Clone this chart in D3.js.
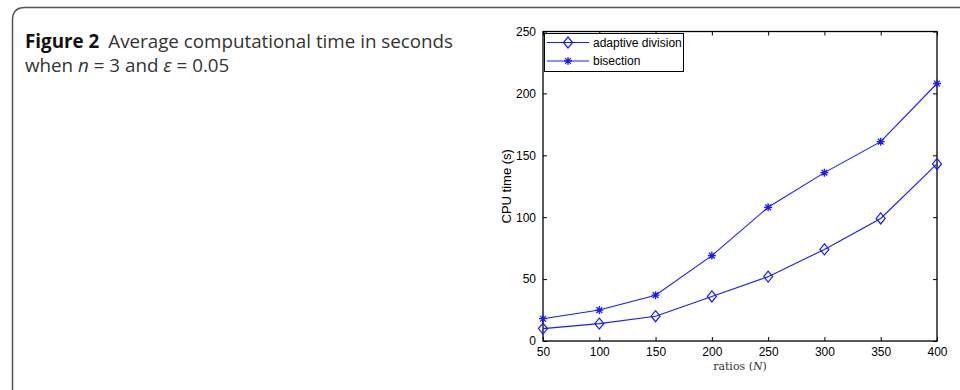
<!DOCTYPE html>
<html>
<head>
<meta charset="utf-8">
<script src="https://cdn.jsdelivr.net/npm/d3@7"></script>
<style>
  body { margin: 0; background: #fff; }
  svg { display: block; }
  .tick-text { font-family: "Liberation Sans", Arial, sans-serif; font-size: 12px; fill: #000; }
  .caption { font-family: "Open Sans", "Noto Sans", sans-serif; font-size: 18.8px; fill: #333; }
</style>
</head>
<body>
<div id="chart"></div>
<script>
// values
const ratios = [50, 100, 150, 200, 250, 300, 350, 400];
const adaptiveDivision = [10, 14, 20, 36, 52, 74, 99, 143];
const bisection = [18, 25, 37, 69, 108, 136, 161, 208];
const xTicks = [50, 100, 150, 200, 250, 300, 350, 400];
const yTicks = [0, 50, 100, 150, 200, 250];
const seriesNames = ['adaptive division', 'bisection'];

const width = 960, height = 390;
const plot = { left: 543, right: 937, top: 31.5, bottom: 341 };

const svg = d3.select('#chart').append('svg')
  .attr('width', width)
  .attr('height', height);

// outer frame of the figure panel (rounded top-left corner)
svg.append('path')
  .attr('d', 'M12.5,390 L12.5,20 Q12.5,7.5 25,7.5 L960,7.5')
  .attr('fill', 'none')
  .attr('stroke', '#555')
  .attr('stroke-width', 1.5);

// caption, two lines
const cap = svg.append('text').attr('class', 'caption').attr('x', 25).attr('y', 47.5);
cap.append('tspan').attr('font-weight', 'bold').attr('fill', '#111').text('Figure 2');
cap.append('tspan').attr('dx', 9).text('Average computational time in seconds');
const cap2 = svg.append('text').attr('class', 'caption').attr('x', 25).attr('y', 72);
cap2.append('tspan').text('when ');
cap2.append('tspan').attr('font-style', 'italic').text('n');
cap2.append('tspan').text(' = 3 and ');
cap2.append('tspan').attr('font-style', 'italic').text('ε');
cap2.append('tspan').text(' = 0.05');

const x = d3.scaleLinear().domain([50, 400]).range([plot.left, plot.right]);
const y = d3.scaleLinear().domain([0, 250]).range([plot.bottom, plot.top]);

const tickLen = 4;

// bottom axis
const xAxis = svg.append('g')
  .attr('transform', `translate(0,${plot.bottom})`)
  .call(d3.axisBottom(x).tickValues(xTicks).tickSizeInner(-tickLen).tickSizeOuter(0).tickPadding(8));
// top axis (ticks only)
const xAxisTop = svg.append('g')
  .attr('transform', `translate(0,${plot.top})`)
  .call(d3.axisTop(x).tickValues(xTicks).tickSizeInner(-tickLen).tickSizeOuter(0).tickFormat(''));
// left axis
const yAxis = svg.append('g')
  .attr('transform', `translate(${plot.left},0)`)
  .call(d3.axisLeft(y).tickValues(yTicks).tickSizeInner(-tickLen).tickSizeOuter(0).tickPadding(7));
// right axis (ticks only)
const yAxisRight = svg.append('g')
  .attr('transform', `translate(${plot.right},0)`)
  .call(d3.axisRight(y).tickValues(yTicks).tickSizeInner(-tickLen).tickSizeOuter(0).tickFormat(''));

[xAxis, xAxisTop, yAxis, yAxisRight].forEach(function(g) {
  g.attr('font-size', null).attr('font-family', null);
  g.select('.domain').remove();
  g.selectAll('line').attr('stroke', '#000').attr('stroke-width', 1);
  g.selectAll('text').attr('class', 'tick-text');
});
xAxis.selectAll('text').attr('dy', '0.6em');

// plot box
svg.append('rect')
  .attr('x', plot.left)
  .attr('y', plot.top)
  .attr('width', plot.right - plot.left)
  .attr('height', plot.bottom - plot.top)
  .attr('fill', 'none')
  .attr('stroke', '#000')
  .attr('stroke-width', 1.3);

// axis labels
svg.append('text')
  .attr('class', 'tick-text')
  .attr('font-size', 13)
  .style('font-size', '13px')
  .attr('transform', `translate(511,${(plot.top + plot.bottom) / 2}) rotate(-90)`)
  .attr('text-anchor', 'middle')
  .text('CPU time (s)');

const xl = svg.append('text')
  .attr('x', (plot.left + plot.right) / 2)
  .attr('y', 370)
  .attr('text-anchor', 'middle')
  .attr('font-family', '"DejaVu Serif", "Liberation Serif", serif')
  .attr('font-size', 11)
  .attr('fill', '#333');
xl.append('tspan').text('ratios  (');
xl.append('tspan').attr('font-style', 'italic').text('N');
xl.append('tspan').text(')');

const blue = '#1a1aff';
const line = d3.line()
  .x(function(d) { return x(d[0]); })
  .y(function(d) { return y(d[1]); });

function diamond(g, cx, cy) {
  g.append('path')
    .attr('d', `M${cx},${cy - 5.5} L${cx + 4.5},${cy} L${cx},${cy + 5.5} L${cx - 4.5},${cy} Z`)
    .attr('fill', 'none')
    .attr('stroke', blue)
    .attr('stroke-width', 1.2);
}

function star(g, cx, cy) {
  const r = 4;
  const d = r * 0.72;
  g.append('path')
    .attr('d', `M${cx - r},${cy} L${cx + r},${cy} M${cx},${cy - r} L${cx},${cy + r} ` +
      `M${cx - d},${cy - d} L${cx + d},${cy + d} M${cx - d},${cy + d} L${cx + d},${cy - d}`)
    .attr('stroke', blue)
    .attr('stroke-width', 1.3);
}

const seriesData = [adaptiveDivision, bisection];
const markers = [diamond, star];

seriesData.forEach(function(vals, i) {
  const pts = ratios.map(function(r, j) { return [r, vals[j]]; });
  svg.append('path')
    .datum(pts)
    .attr('d', line)
    .attr('fill', 'none')
    .attr('stroke', blue)
    .attr('stroke-width', 1.1);
  const mg = svg.append('g');
  pts.forEach(function(p) { markers[i](mg, x(p[0]), y(p[1])); });
});

// legend
const legend = svg.append('g');
legend.append('rect')
  .attr('x', 544.5)
  .attr('y', 33.5)
  .attr('width', 139)
  .attr('height', 38)
  .attr('fill', '#fff')
  .attr('stroke', '#000')
  .attr('stroke-width', 1);

seriesNames.forEach(function(name, i) {
  const ly = 42.5 + i * 18.5;
  legend.append('line')
    .attr('x1', 547).attr('x2', 589)
    .attr('y1', ly).attr('y2', ly)
    .attr('stroke', blue)
    .attr('stroke-width', 1.1);
  markers[i](legend, 568, ly);
  legend.append('text')
    .attr('class', 'tick-text')
    .attr('x', 593)
    .attr('y', ly + 4)
    .text(name);
});
</script>
</body>
</html>
